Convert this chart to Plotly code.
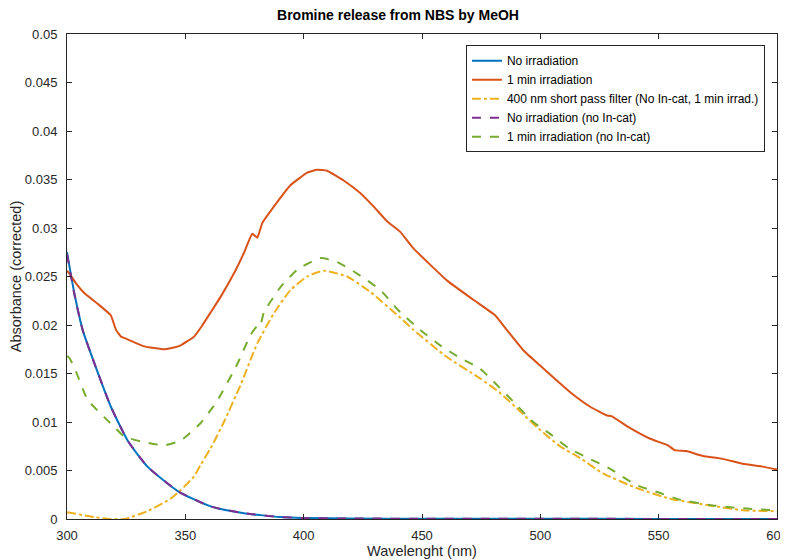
import plotly.graph_objects as go

# ---- data ----
wl_blue = [300, 303, 306.6, 311.5, 318.5, 325.6, 334, 347.3, 360.7, 374.7, 381.8, 390, 400, 420, 450, 500, 550, 600]
abs_blue = [0.0275, 0.0234, 0.0195, 0.0161, 0.0116, 0.0081, 0.0054, 0.0028, 0.0013, 0.0006, 0.0004, 0.0002, 0.0001,
            0.00005, 0.00003, 0.00002, 0.00001, 0.0]

wl_orange = [300, 301, 303.8, 307.3, 312.9, 318.5, 320.7, 322.8, 324.9, 332.6, 341, 343.8, 348, 353.7, 357, 360.7,
             364.9, 370.5, 374.7, 378.3, 380.4, 382.5, 387.4, 394.4, 401.5, 405.7, 409.9, 416.9, 423.9, 429.6,
             435.2, 440.8, 446.4, 460.5, 471.7, 480.9, 485.8, 492.8, 500, 512.5, 520.9, 527.9, 530, 537.8, 546.2,
             553.9, 556.7, 561.7, 568.7, 577.1, 585.5, 594, 600]
abs_orange = [0.0256, 0.0253, 0.0243, 0.0233, 0.0222, 0.0210, 0.0195, 0.0188, 0.0186, 0.0178, 0.0175, 0.0176,
              0.0179, 0.0188, 0.0199, 0.0213, 0.0229, 0.0253, 0.0274, 0.0294, 0.0290, 0.0305, 0.0322, 0.0344,
              0.0357, 0.0360, 0.0359, 0.0349, 0.0336, 0.0322, 0.0307, 0.0296, 0.0279, 0.0246, 0.0226, 0.0210,
              0.0195, 0.0174, 0.0158, 0.0131, 0.0116, 0.0107, 0.0106, 0.0094, 0.0083, 0.0076, 0.0071, 0.0070,
              0.0065, 0.0062, 0.0057, 0.0054, 0.0051]

wl_yellow = [300, 311.5, 318, 324.2, 334, 343.8, 348.1, 353.7, 356.5, 360.7, 366.3, 373.3, 380.4, 387.4, 394.4,
             401.5, 408.5, 418.3, 428.2, 440.1, 446.4, 460.5, 474.5, 483, 491.4, 499.8, 508.3, 516.7, 526.5,
             540.6, 554.6, 571.5, 585.5, 600]
abs_yellow = [0.0007, 0.0002, 0.0000, 0.0000, 0.0008, 0.0021, 0.0030, 0.0044, 0.0056, 0.0073, 0.0100, 0.0138,
              0.0181, 0.0212, 0.0236, 0.0250, 0.0256, 0.0250, 0.0234, 0.0209, 0.0195, 0.0167, 0.0145, 0.0130,
              0.0111, 0.0092, 0.0075, 0.0063, 0.0047, 0.0032, 0.0021, 0.0014, 0.0009, 0.0008]

wl_purple = [300, 303, 306.6, 311.5, 318.5, 325.6, 334, 347.3, 360.7, 374.7, 381.8, 390, 400, 420, 450, 500, 550, 600]
abs_purple = [0.0273, 0.0233, 0.0195, 0.0161, 0.0116, 0.0081, 0.0054, 0.0028, 0.0013, 0.0006, 0.0004, 0.0002,
              0.0001, 0.00005, 0.00003, 0.00002, 0.00001, 0.0]

wl_green = [300, 301, 303.8, 308.7, 315.7, 320, 324.2, 331.2, 341, 348.1, 356.5, 363.5, 372, 377.6, 380.5, 381.5,
            383.2, 390.2, 397.3, 407.1, 414.1, 422.6, 432.4, 440.1, 449.2, 457.7, 466.1, 474.5, 480.1, 488.6, 497,
            504, 512, 520, 529.3, 540.6, 550.4, 558.9, 572.9, 585.5, 600]
abs_green = [0.0168, 0.0166, 0.0152, 0.0123, 0.0105, 0.0095, 0.0085, 0.0080, 0.0076, 0.0081, 0.0099, 0.0122,
             0.0160, 0.0190, 0.0199, 0.0198, 0.0213, 0.0239, 0.0257, 0.0269, 0.0265, 0.0253, 0.0236, 0.0215,
             0.0195, 0.0179, 0.0166, 0.0155, 0.0142, 0.0121, 0.0100, 0.0088, 0.0073, 0.0063, 0.0052, 0.0035,
             0.0027, 0.0020, 0.0014, 0.0011, 0.0009]

x_ticks = [300, 350, 400, 450, 500, 550, 600]
y_ticks = [0, 0.005, 0.01, 0.015, 0.02, 0.025, 0.03, 0.035, 0.04, 0.045, 0.05]
y_tick_text = ["0", "0.005", "0.01", "0.015", "0.02", "0.025", "0.03", "0.035", "0.04", "0.045", "0.05"]

series = [
    ("No irradiation", wl_blue, abs_blue, "#0072BD", "solid", 0.5),
    ("1 min irradiation", wl_orange, abs_orange, "#D95319", "solid", 0.35),
    ("400 nm short pass filter (No In-cat, 1 min irrad.)", wl_yellow, abs_yellow, "#EDB120", "dashdot", 0.5),
    ("No irradiation (no In-cat)", wl_purple, abs_purple, "#7E2F8E", "dash", 0.5),
    ("1 min irradiation (no In-cat)", wl_green, abs_green, "#77AC30", "dash", 0.5),
]

fig = go.Figure()
for name, xs, ys, color, dash, smooth in series:
    fig.add_trace(go.Scatter(
        x=xs, y=ys, name=name, mode="lines",
        line=dict(color=color, width=2, dash=dash, shape="spline", smoothing=smooth),
    ))

axis_color = "#262626"
# the page body adds an 8px offset, so the figure is 8px smaller than the window
fig.update_layout(
    width=780, height=552,
    margin=dict(l=59, r=11, t=26, b=41),
    paper_bgcolor="white", plot_bgcolor="white",
    font=dict(family="Liberation Sans, Arial, sans-serif", size=13, color=axis_color),
    title=dict(text="<b>Bromine release from NBS by MeOH</b>", x=0.5, xanchor="center",
               y=0.987, yanchor="middle", font=dict(size=14, color="black")),
    showlegend=True,
    legend=dict(x=0.983, y=0.977, xanchor="right", yanchor="top",
                bgcolor="white", bordercolor=axis_color, borderwidth=1,
                font=dict(size=12, color="black"), tracegroupgap=0),
)
fig.update_xaxes(
    range=[300, 600], tickvals=x_ticks, ticks="inside", ticklen=5, tickcolor=axis_color,
    showline=True, linecolor=axis_color, linewidth=1, mirror="ticks", showgrid=False, zeroline=False,
    automargin=False, ticklabelstandoff=4, tickfont=dict(size=13, color=axis_color),
    title=dict(text="Wavelenght (nm)", standoff=0, font=dict(size=14.5, color=axis_color)),
)
fig.update_yaxes(
    range=[0, 0.05], tickvals=y_ticks, ticktext=y_tick_text, ticks="inside", ticklen=5, tickcolor=axis_color,
    showline=True, linecolor=axis_color, linewidth=1, mirror="ticks", showgrid=False, zeroline=False,
    automargin=False, ticklabelstandoff=6, tickfont=dict(size=13, color=axis_color),
    title=dict(text="Absorbance (corrected)", standoff=0, font=dict(size=14.5, color=axis_color)),
)

fig.write_html("out.html")
